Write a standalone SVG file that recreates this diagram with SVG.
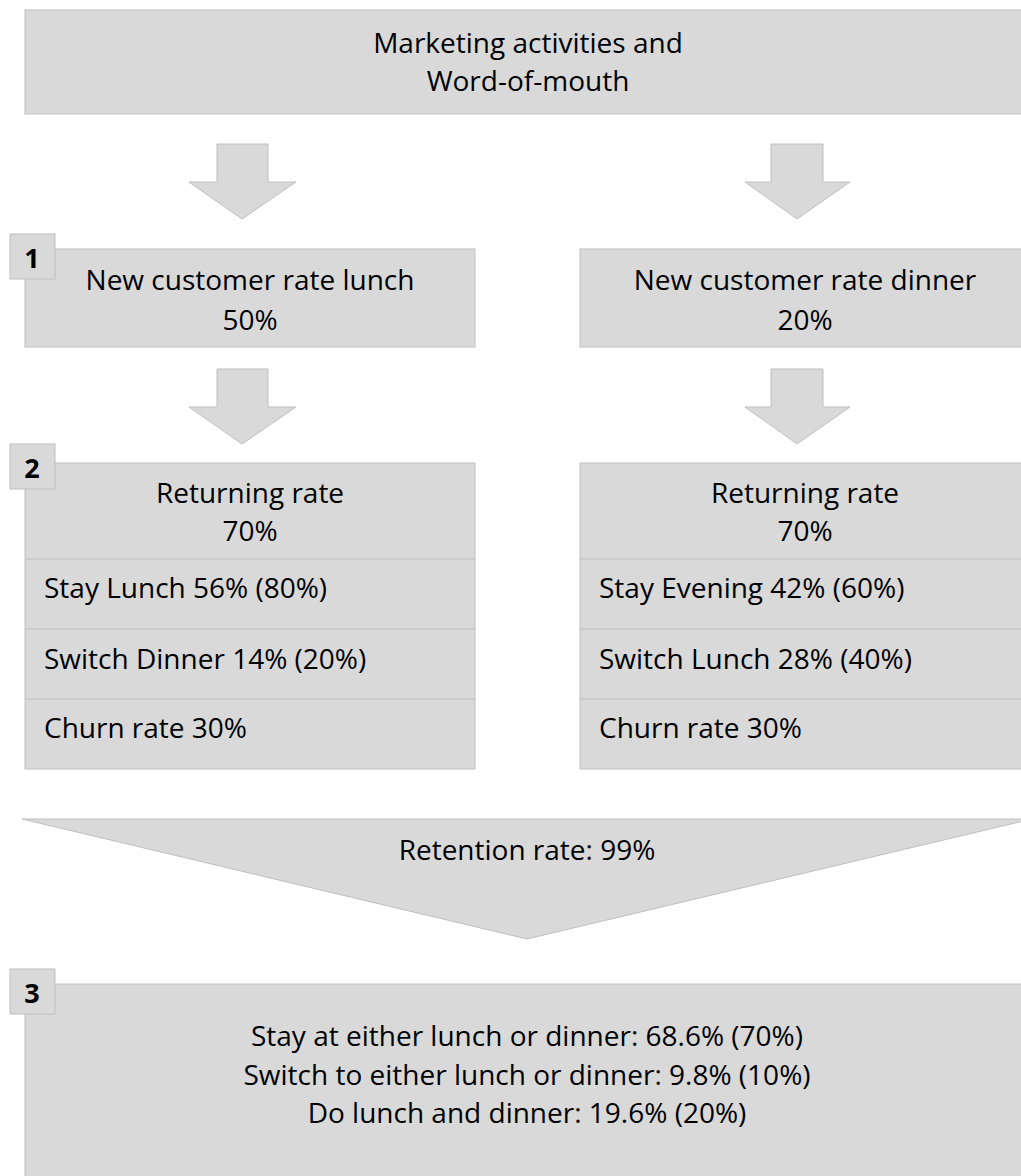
<svg xmlns="http://www.w3.org/2000/svg" width="1021" height="1176" viewBox="0 0 1021 1176">
<style>
.box{fill:#d9d9d9;stroke:#bfbfbf;stroke-width:1}
.div{stroke:#bfbfbf;stroke-width:1.2}
.t{font-family:"Open Sans","Noto Sans",sans-serif;font-size:28px;fill:#000}
.c{text-anchor:middle}
.b{font-family:"Open Sans","Noto Sans",sans-serif;font-size:27px;font-weight:bold;fill:#000;text-anchor:middle}
</style>
<rect width="1021" height="1176" fill="#fff"/>
<g id="connectors">
<polygon class="box" points="217,144 268,144 268,182 296,182 242,219 189,182 217,182"/>
<polygon class="box" points="771,144 823,144 823,182 850,182 797,219 745,182 771,182"/>
<polygon class="box" points="217,369 268,369 268,407 296,407 242,444 189,407 217,407"/>
<polygon class="box" points="771,369 823,369 823,407 850,407 797,444 745,407 771,407"/>
</g>
<g id="top">
<rect class="box" x="25" y="10" width="1006" height="104"/>
<text class="t c" x="528" y="53">Marketing activities and</text>
<text class="t c" x="528" y="91">Word-of-mouth</text>
</g>
<g id="new-lunch">
<rect class="box" x="25" y="249" width="450" height="98"/>
<text class="t c" x="250" y="290">New customer rate lunch</text>
<text class="t c" x="250" y="330">50%</text>
</g>
<g id="badge1">
<rect class="box" x="10" y="234" width="45" height="45"/>
<text class="b" x="32" y="268">1</text>
</g>
<g id="new-dinner">
<rect class="box" x="580" y="249" width="450" height="98"/>
<text class="t c" x="805" y="290">New customer rate dinner</text>
<text class="t c" x="805" y="330">20%</text>
</g>
<g id="return-lunch">
<rect class="box" x="25" y="463" width="450" height="306"/>
<line class="div" x1="25" y1="559" x2="475" y2="559"/>
<line class="div" x1="25" y1="629" x2="475" y2="629"/>
<line class="div" x1="25" y1="699" x2="475" y2="699"/>
<text class="t c" x="250" y="503">Returning rate</text>
<text class="t c" x="250" y="541">70%</text>
<text class="t" x="44" y="598">Stay Lunch 56% (80%)</text>
<text class="t" x="44" y="669">Switch Dinner 14% (20%)</text>
<text class="t" x="44" y="738">Churn rate 30%</text>
</g>
<g id="badge2">
<rect class="box" x="10" y="444" width="45" height="45"/>
<text class="b" x="32" y="478">2</text>
</g>
<g id="return-dinner">
<rect class="box" x="580" y="463" width="450" height="306"/>
<line class="div" x1="580" y1="559" x2="1030" y2="559"/>
<line class="div" x1="580" y1="629" x2="1030" y2="629"/>
<line class="div" x1="580" y1="699" x2="1030" y2="699"/>
<text class="t c" x="805" y="503">Returning rate</text>
<text class="t c" x="805" y="541">70%</text>
<text class="t" x="599" y="598">Stay Evening 42% (60%)</text>
<text class="t" x="599" y="669">Switch Lunch 28% (40%)</text>
<text class="t" x="599" y="738">Churn rate 30%</text>
</g>
<g id="retention">
<polygon class="box" points="22,819 1032,819 527,939"/>
<text class="t c" x="527" y="860">Retention rate: 99%</text>
</g>
<g id="result">
<rect class="box" x="25" y="984" width="1006" height="210"/>
<text class="t c" x="527" y="1046">Stay at either lunch or dinner: 68.6% (70%)</text>
<text class="t c" x="527" y="1085">Switch to either lunch or dinner: 9.8% (10%)</text>
<text class="t c" x="527" y="1123">Do lunch and dinner: 19.6% (20%)</text>
</g>
<g id="badge3">
<rect class="box" x="10" y="969" width="45" height="45"/>
<text class="b" x="32" y="1003">3</text>
</g>
</svg>
